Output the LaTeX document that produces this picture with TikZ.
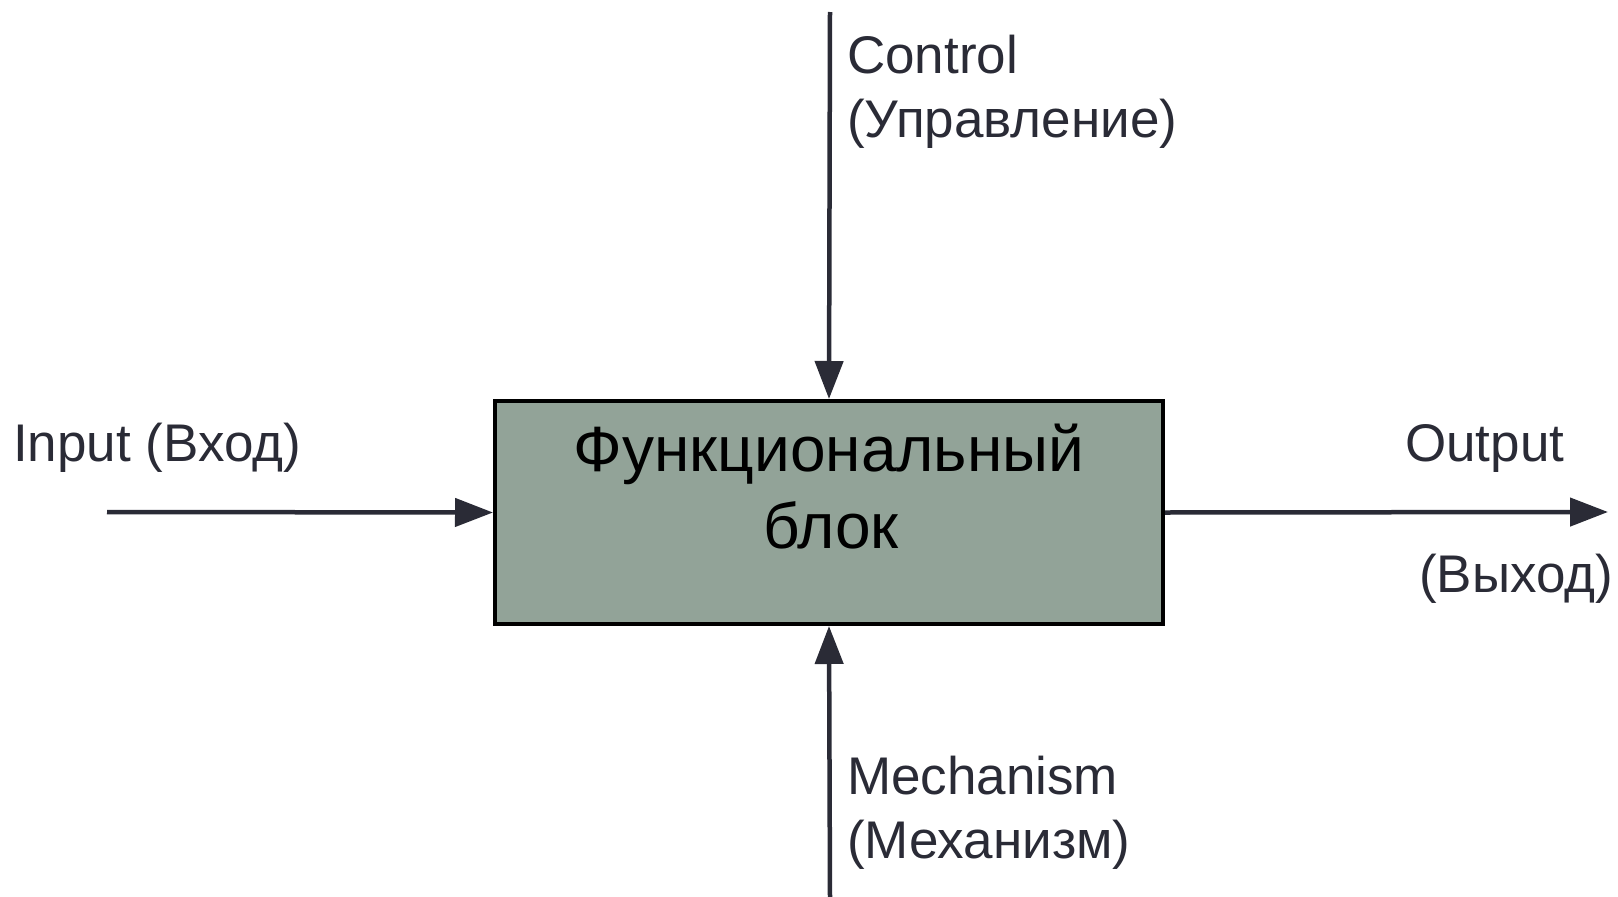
\documentclass[tikz,border=0pt]{standalone}
\usepackage{fontspec}
\setmainfont{Liberation Sans}
\usetikzlibrary{arrows.meta}
\definecolor{linec}{HTML}{2A2B36}
\definecolor{boxfill}{HTML}{92A398}
\tikzset{
  conn/.style={draw=linec, line width=4.5pt, -{Triangle[length=38pt,width=28pt]}},
  lbl/.style={anchor=base west, inner sep=0pt, text=linec, font=\fontsize{53}{60}\selectfont},
  boxtxt/.style={anchor=base, inner sep=0pt, text=black, font=\fontsize{64}{80}\selectfont},
  fblock/.style={draw=black, fill=boxfill, line width=4pt, minimum width=668pt, minimum height=223pt, inner sep=0pt}
}
\begin{document}
\begin{tikzpicture}[x=1pt,y=-1pt]
\useasboundingbox (0,0) rectangle (1618,897);
\node[fblock] (box) at (829,512.5) {};
\node[boxtxt] (t1) at (829,471) {Функциональный};
\node[boxtxt] (t2) at (831,548) {блок};
\coordinate (inS) at (107,512);
\coordinate (outE) at (1608,512);
\coordinate (ctlS) at (830,12);
\coordinate (mechS) at (830,897);
\draw[conn] (inS) -- (box.west);
\draw[conn] (box.east) -- (outE);
\draw[conn] (ctlS) -- (box.north);
\draw[conn] (mechS) -- (box.south);
\node[lbl] (linput) at (13,461) {Input (Вход)};
\node[lbl] (lctl1) at (847,73) {Control};
\node[lbl] (lctl2) at (847,137) {(Управление)};
\node[lbl] (lout1) at (1405,461) {Output};
\node[lbl] (lout2) at (1419,592) {(Выход)};
\node[lbl] (lmech1) at (847,794) {Mechanism};
\node[lbl] (lmech2) at (847,858) {(Механизм)};
\end{tikzpicture}
\end{document}
